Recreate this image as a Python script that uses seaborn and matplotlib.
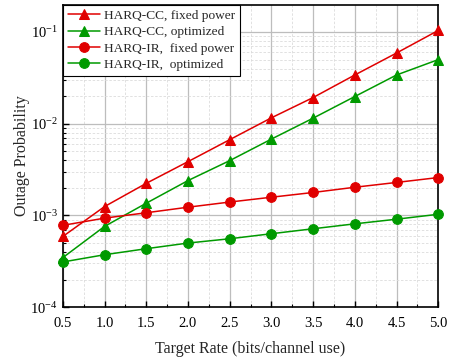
import numpy as np
import pandas as pd
import matplotlib
matplotlib.use("Agg")
import matplotlib.pyplot as plt
import seaborn as sns
from matplotlib.ticker import LogLocator, NullFormatter, MultipleLocator

# ---- data ----
rate = [0.5, 1.0, 1.5, 2.0, 2.5, 3.0, 3.5, 4.0, 4.5, 5.0]
cc_fixed = [5.9e-4, 1.25e-3, 2.24e-3, 3.86e-3, 6.7e-3, 1.16e-2, 1.93e-2, 3.4e-2, 5.9e-2, 1.04e-1]
cc_opt = [3.47e-4, 7.6e-4, 1.36e-3, 2.4e-3, 3.96e-3, 6.8e-3, 1.15e-2, 1.98e-2, 3.4e-2, 5.0e-2]
ir_fixed = [7.8e-4, 9.35e-4, 1.07e-3, 1.23e-3, 1.40e-3, 1.58e-3, 1.78e-3, 2.03e-3, 2.29e-3, 2.59e-3]
ir_opt = [3.11e-4, 3.73e-4, 4.34e-4, 5.0e-4, 5.57e-4, 6.32e-4, 7.16e-4, 8.1e-4, 9.1e-4, 1.03e-3]
labels = ["HARQ-CC, fixed power", "HARQ-CC, optimized",
          "HARQ-IR,  fixed power", "HARQ-IR,  optimized"]

RED = "#e00000"
GREEN = "#009a00"
styles = [(RED, "^"), (GREEN, "^"), (RED, "o"), (GREEN, "o")]

sns.set_theme(style="ticks")
plt.rcParams['font.family'] = ['Liberation Serif', 'DejaVu Serif']
plt.rcParams['mathtext.fontset'] = 'stix'

fig = plt.figure(figsize=(4.49, 3.58), dpi=100)
ax = fig.add_axes([0.140, 0.142, 0.836, 0.844])

for ys, lab, (c, m) in zip([cc_fixed, cc_opt, ir_fixed, ir_opt], labels, styles):
    df = pd.DataFrame({"rate": rate, "p": ys})
    sns.lineplot(data=df, x="rate", y="p", ax=ax, color=c, marker=m,
                 markersize=7, markeredgecolor=c, linewidth=1.1, label=lab,
                 clip_on=False, zorder=3)

ax.set_yscale("log")
ax.set_xlim(0.5, 5.0)
ax.set_ylim(1e-4, 0.197)
ax.xaxis.set_minor_locator(MultipleLocator(0.25))
ax.set_xticks(rate)
ax.set_xticklabels([f"{r:.1f}" for r in rate])
ax.yaxis.set_major_locator(LogLocator(base=10, numticks=10))
ax.yaxis.set_minor_locator(LogLocator(base=10, subs=np.arange(2, 10), numticks=20))
ax.yaxis.set_minor_formatter(NullFormatter())

ax.grid(True, which="major", color="#bdbdbd", linewidth=0.9, linestyle="-")
ax.grid(True, which="minor", color="#dcdcdc", linewidth=0.6, linestyle=(0, (3, 2)))
ax.set_axisbelow(True)

ax.tick_params(which="both", direction="in", labelsize=10.5, colors="black")
ax.tick_params(which="major", length=4, width=1)
ax.tick_params(which="minor", length=2, width=0.8)
ax.tick_params(axis="x", which="major", pad=7)
for s in ax.spines.values():
    s.set_color("black")
    s.set_linewidth(1.2)

ax.set_xlabel("Target Rate (bits/channel use)", fontsize=11.5, labelpad=8)
ax.set_ylabel("Outage Probability", fontsize=11.5, labelpad=0)

leg = ax.legend(loc="upper left", fontsize=9.6, frameon=True, fancybox=False,
                borderaxespad=0, handlelength=2.4, borderpad=0.35,
                labelspacing=0.3, handletextpad=0.35)
leg.get_frame().set_edgecolor("black")
leg.get_frame().set_linewidth(0.8)
leg.get_frame().set_alpha(1)

fig.savefig("out.png", dpi=100)
